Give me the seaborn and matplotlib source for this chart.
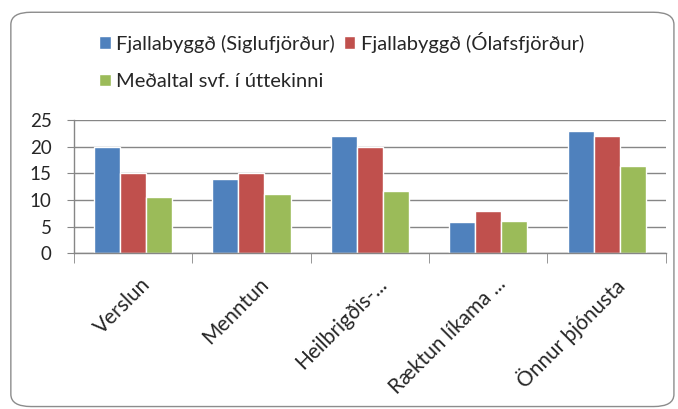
import matplotlib
matplotlib.use("Agg")
import matplotlib.pyplot as plt
import matplotlib.transforms as mtransforms
import seaborn as sns
import pandas as pd
from matplotlib.patches import FancyBboxPatch

categories = ["Verslun", "Menntun", "Heilbrigðis-...", "Ræktun líkama ...", "Önnur þjónusta"]
siglufjordur = [20, 14, 22, 5.9, 23]
olafsfjordur = [15, 15, 20, 8, 22]
medaltal = [10.6, 11.1, 11.7, 6, 16.4]
series = ["Fjallabyggð (Siglufjörður)", "Fjallabyggð (Ólafsfjörður)", "Meðaltal svf. í úttekinni"]
colors = ["#4F81BD", "#C0504D", "#9BBB59"]

df = pd.DataFrame({"flokkur": categories,
                   series[0]: siglufjordur,
                   series[1]: olafsfjordur,
                   series[2]: medaltal})
long = df.melt(id_vars="flokkur", var_name="hópur", value_name="gildi")

sns.set_style("white")
plt.rcParams["font.family"] = ["Lato", "DejaVu Sans"]

fig = plt.figure(figsize=(6.78, 4.09), dpi=100)
ax = fig.add_axes([0.109, 0.381, 0.873, 0.326])

sns.barplot(data=long, x="flokkur", y="gildi", hue="hópur", hue_order=series,
            palette=colors, width=0.66, gap=0, saturation=1, ax=ax, legend=True)

grid_c = "#868686"
ax.set_ylim(0, 25)
ax.set_xlim(-0.5, len(categories) - 0.5)
ax.set_yticks([0, 5, 10, 15, 20, 25])
ax.yaxis.grid(True, color=grid_c, linewidth=1)
ax.set_axisbelow(True)
ax.set_xlabel("")
ax.set_ylabel("")
for s in ["top", "right"]:
    ax.spines[s].set_visible(False)
for s in ["left", "bottom"]:
    ax.spines[s].set_color(grid_c)
    ax.spines[s].set_linewidth(1)

ax.tick_params(axis="y", left=True, length=5, color=grid_c, labelsize=13.5, pad=11)
ax.set_xticks([i + 0.5 for i in range(-1, len(categories))], minor=True)
ax.tick_params(axis="x", which="minor", bottom=True, length=7, color=grid_c)
ax.tick_params(axis="x", which="major", bottom=False, length=0, labelsize=15, pad=15)
shift = mtransforms.ScaledTranslation(5 / 72, 0, fig.dpi_scale_trans)
for lbl in ax.get_xticklabels():
    lbl.set_rotation(45)
    lbl.set_ha("right")
    lbl.set_rotation_mode("anchor")
    lbl.set_transform(lbl.get_transform() + shift)

# legend rows: blue, red / green
handles, labels = ax.get_legend_handles_labels()
ax.legend_.remove()
order = [0, 2, 1]
fig.legend([handles[i] for i in order], [labels[i] for i in order],
           ncol=2, loc="upper left", bbox_to_anchor=(0.120, 0.967),
           frameon=False, fontsize=14.5, handlelength=0.55, handleheight=0.55,
           handletextpad=0.25, columnspacing=0.5, labelspacing=1.0)

fig.patches.append(FancyBboxPatch((0.016, 0.006), 0.978, 0.964,
                                  boxstyle="round,pad=0,rounding_size=0.03",
                                  transform=fig.transFigure, fill=False,
                                  edgecolor="#8c8c8c", linewidth=1))

fig.savefig("out.png", dpi=100)
